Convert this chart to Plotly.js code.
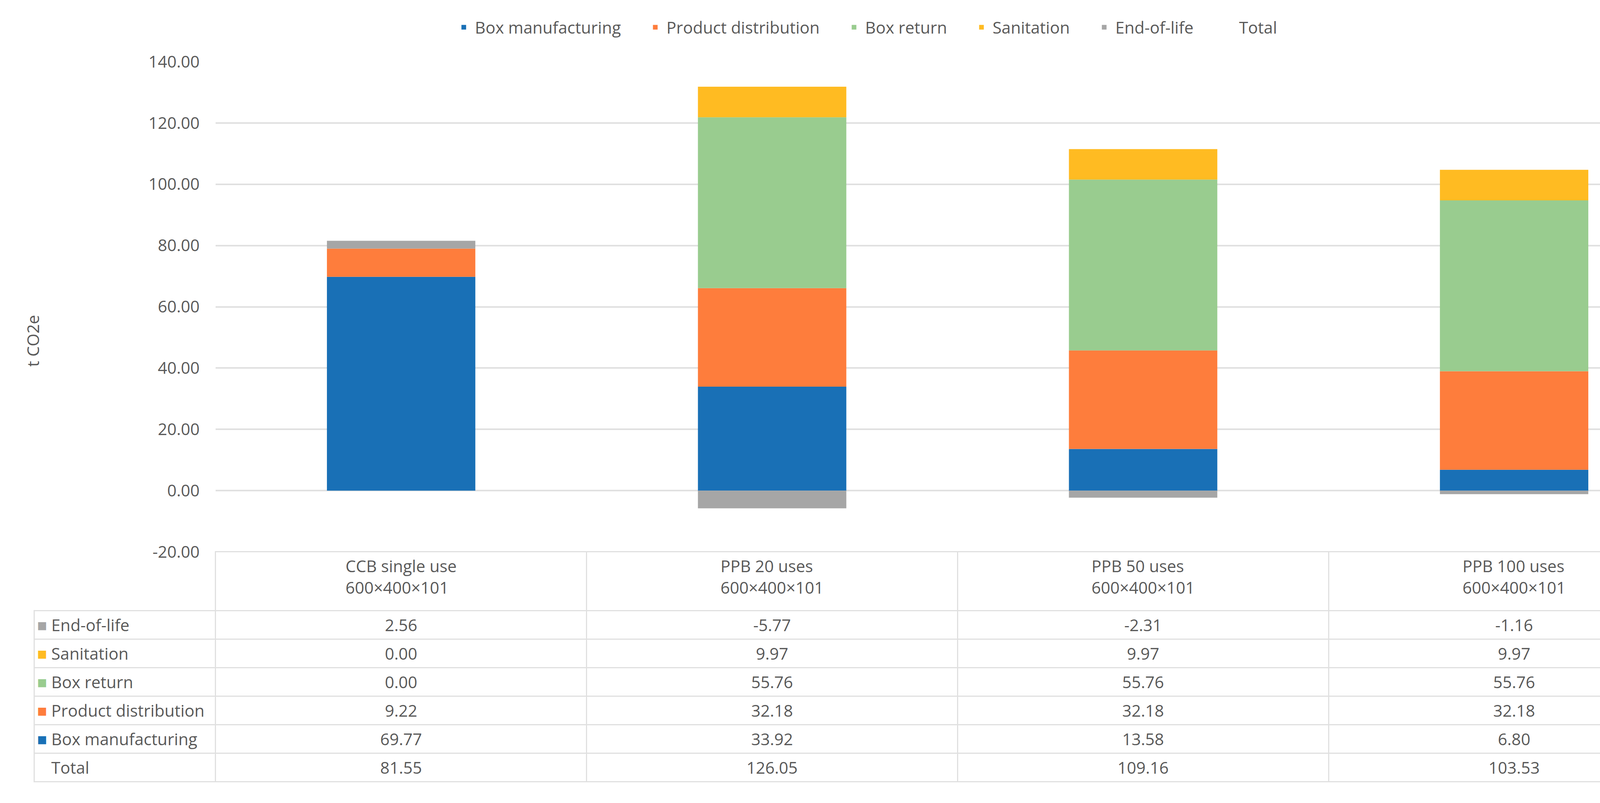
<!DOCTYPE html>
<html>
<head>
<meta charset="utf-8">
<script src="https://cdn.plot.ly/plotly-3.0.1.min.js"></script>
<style>html,body{margin:0;padding:0;background:#fff;}#chart{width:4394px;height:2056px;}</style>
</head>
<body>
<div id="chart"></div>
<script>
// ---- data ----
const categories = ['CCB single use', 'PPB 20 uses', 'PPB 50 uses', 'PPB 100 uses'];
const boxSize = '600×400×101';
const seriesNames = ['Box manufacturing', 'Product distribution', 'Box return', 'Sanitation', 'End-of-life'];
const seriesColors = ['#1970b6', '#fe7d3c', '#99cc8f', '#ffbb22', '#a6a6a6'];
const boxManufacturing = [69.77, 33.92, 13.58, 6.80];
const productDistribution = [9.22, 32.18, 32.18, 32.18];
const boxReturn = [0.00, 55.76, 55.76, 55.76];
const sanitation = [0.00, 9.97, 9.97, 9.97];
const endOfLife = [2.56, -5.77, -2.31, -1.16];
const totalName = 'Total';
const total = [81.55, 126.05, 109.16, 103.53];
const yTickValues = [-20, 0, 20, 40, 60, 80, 100, 120, 140];
const yTitle = 't CO2e';

// ---- build ----
const seriesValues = [boxManufacturing, productDistribution, boxReturn, sanitation, endOfLife];
const textColor = '#595959';
const FONT = 'Open Sans';
const pad = '\u00A0\u00A0\u00A0\u00A0\u00A0';

const traces = seriesNames.map((name, i) => ({
  type: 'bar',
  name: name + pad,
  x: categories,
  y: seriesValues[i],
  marker: {color: seriesColors[i]},
  hoverinfo: 'skip'
}));
traces.push({
  type: 'scatter',
  mode: 'lines',
  name: totalName,
  x: categories,
  y: total,
  line: {color: 'rgba(0,0,0,0)', width: 2},
  hoverinfo: 'skip'
});

// table rows (top to bottom): End-of-life ... Box manufacturing, Total
const rowOrder = [4, 3, 2, 1, 0];
const sq = c => '<span style="color:' + c + '">■</span>';
const labelCol = rowOrder.map(i => sq(seriesColors[i]) + ' ' + seriesNames[i] + '<br>');
labelCol.push(sq('rgba(0,0,0,0)') + ' ' + totalName + '<br>');
const valueCols = categories.map((c, k) => {
  const col = rowOrder.map(i => seriesValues[i][k].toFixed(2) + '<br>');
  col.push(total[k].toFixed(2) + '<br>');
  return col;
});
const headerVals = [['']].concat(categories.map(c => [c + '<br>' + boxSize]));
const gridLine = '#e0e0e0';

traces.push({
  type: 'table',
  domain: {x: [87 / 4394, 4351 / 4394], y: [0, (2056 - 1412) / 2056]},
  columnwidth: [465, 950, 950, 950, 950],
  header: {
    values: headerVals,
    height: 151,
    align: 'center',
    fill: {color: 'rgba(0,0,0,0)'},
    line: {color: ['rgba(0,0,0,0)', gridLine, gridLine, gridLine, gridLine], width: 3},
    font: {family: FONT, size: 42, color: textColor}
  },
  cells: {
    values: [labelCol].concat(valueCols),
    height: 72,
    align: ['left', 'center', 'center', 'center', 'center'],
    fill: {color: 'rgba(0,0,0,0)'},
    line: {color: gridLine, width: 3},
    font: {family: FONT, size: 42, color: textColor}
  }
});

const layout = {
  width: 4394,
  height: 2056,
  margin: {l: 0, r: 0, t: 0, b: 0, pad: 0},
  paper_bgcolor: '#ffffff',
  plot_bgcolor: '#ffffff',
  font: {family: FONT, size: 42, color: textColor},
  barmode: 'relative',
  bargap: 0.6,
  showlegend: true,
  legend: {
    orientation: 'h',
    x: 0.5045, xanchor: 'center',
    y: 1 - 70 / 2056, yanchor: 'middle',
    itemwidth: 47,
    traceorder: 'normal',
    bgcolor: 'rgba(0,0,0,0)',
    font: {family: FONT, size: 42, color: textColor}
  },
  xaxis: {
    domain: [552 / 4394, 4351 / 4394],
    showticklabels: false,
    showgrid: false,
    zeroline: false,
    showline: false,
    ticks: '',
    automargin: false,
    fixedrange: true
  },
  yaxis: {
    domain: [(2056 - 1413) / 2056, (2056 - 158) / 2056],
    range: [-20, 140],
    tickmode: 'array',
    tickvals: yTickValues,
    ticktext: yTickValues.map(v => v.toFixed(2)),
    showgrid: true,
    gridcolor: '#e0e0e0',
    gridwidth: 4,
    zeroline: false,
    showline: false,
    ticks: '',
    ticklabelstandoff: 40,
    tickfont: {family: FONT, size: 42, color: textColor},
    automargin: false,
    fixedrange: true
  },
  annotations: [{
    text: yTitle,
    xref: 'paper', yref: 'paper',
    x: 83 / 4394, y: 1 - 873 / 2056,
    xanchor: 'center', yanchor: 'middle',
    textangle: -90,
    showarrow: false,
    font: {family: FONT, size: 42, color: textColor}
  }]
};

Plotly.newPlot('chart', traces, layout, {staticPlot: true, displayModeBar: false});
</script>
</body>
</html>
